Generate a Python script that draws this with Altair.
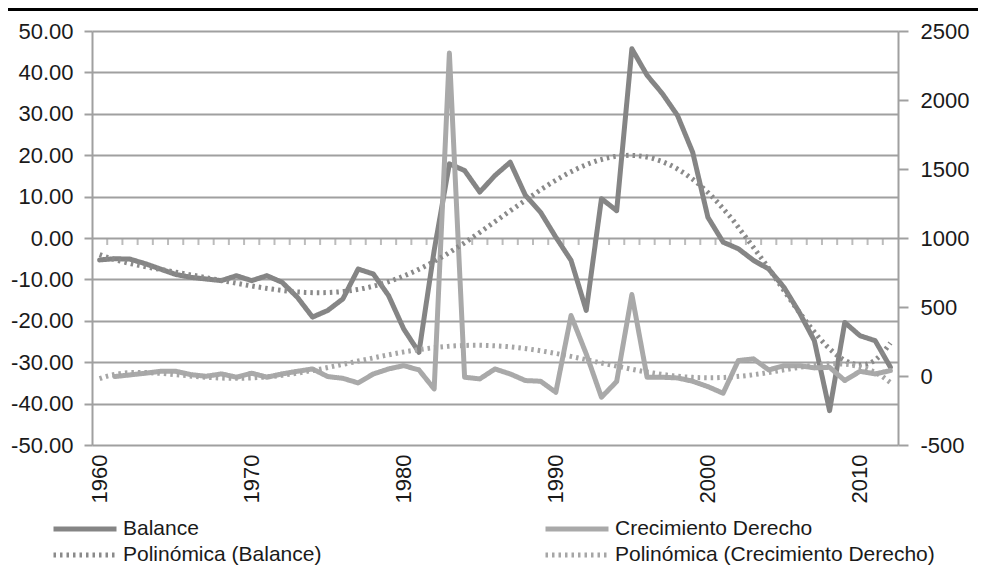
import altair as alt
import pandas as pd

years = list(range(1960, 2013))
balance = [-5.3, -5.0, -5.1, -6.2, -7.5, -8.8, -9.5, -9.9, -10.3, -9.1,
           -10.3, -9.1, -10.7, -14.3, -19.1, -17.5, -14.7, -7.5, -8.7, -13.9,
           -22.0, -27.6, -3.0, 17.9, 16.3, 11.1, 15.1, 18.3, 10.3, 6.2,
           0.2, -5.4, -17.5, 9.5, 6.6, 45.7, 39.3, 34.9, 29.6, 20.7,
           5.0, -1.0, -2.6, -5.4, -7.5, -11.9, -17.9, -24.8, -41.7, -20.4,
           -23.6, -24.8, -31.2]
crecimiento = [None, -4, 8, 20, 34, 34, 10, -2, 15, -9,
               20, -9, 15, 34, 51, -4, -17, -50, 15, 51,
               75, 44, -94, 2340, -9, -21, 51, 15, -33, -38,
               -118, 438, 160, -154, -40, 590, -9, -9, -14, -38,
               -77, -125, 112, 124, 44, 75, 75, 59, 63, -33,
               34, 15, 39]

series_names = ["Balance", "Crecimiento Derecho",
                "Polinómica (Balance)", "Polinómica (Crecimiento Derecho)"]
series_colors = ["#858585", "#a9a9a9", "#8a8a8a", "#a6a6a6"]
series_dash = [[1, 0], [1, 0], [2.5, 4], [2.5, 4]]
series_width = [5, 5, 3.2, 3.2]

left_ticks = [-50, -40, -30, -20, -10, 0, 10, 20, 30, 40, 50]
right_ticks = [-500, 0, 500, 1000, 1500, 2000, 2500]
year_labels = [1960, 1970, 1980, 1990, 2000, 2010]

rows = []
for yr, b, c in zip(years, balance, crecimiento):
    rows.append({"year": yr, "t": yr - years[0], "serie": "Balance", "value": b})
    rows.append({"year": yr, "t": yr - years[0], "serie": "Crecimiento Derecho", "value": c})
df = pd.DataFrame(rows)
bounds = pd.DataFrame({"year": [y + 0.5 for y in years[:-1]], "value": [0] * (len(years) - 1)})

FONT = "Liberation Sans"
GRID = "#a0a0a0"

legend = alt.Legend(
    title=None, orient="none", legendX=-20, legendY=485, columns=2, direction="horizontal",
    columnPadding=213, rowPadding=3, symbolType="M-3,0H3", symbolSize=441,
    labelOffset=25, labelFontSize=21, labelFont=FONT, labelColor="#1a1a1a",
    padding=0, labelLimit=400,
)
color = alt.Color("serie:N", scale=alt.Scale(domain=series_names, range=series_colors), legend=legend)
dash = alt.StrokeDash("serie:N", scale=alt.Scale(domain=series_names, range=series_dash), legend=legend)
width = alt.StrokeWidth("serie:N", scale=alt.Scale(domain=series_names, range=series_width), legend=legend)

x_scale = alt.Scale(domain=[years[0] - 0.5, years[-1] + 0.5], nice=False, zero=False)
x_enc = alt.X(
    "year:Q", scale=x_scale,
    axis=alt.Axis(values=year_labels, format="d", labelAngle=270, ticks=False, domain=False,
                  grid=False, labelFontSize=22, labelPadding=9, title=None),
)

left_scale = alt.Scale(domain=[-50, 50], nice=False)
right_scale = alt.Scale(domain=[-500, 2500], nice=False)
y_left_axis = alt.Y(
    "value:Q", scale=left_scale,
    axis=alt.Axis(values=left_ticks, grid=True, tickSize=8, labelPadding=11,
                  labelFontSize=22, title=None,
                  labelExpr="datum.value < 0 ? '-' + format(-datum.value, '.2f') : format(datum.value, '.2f')"),
)
y_left_plain = alt.Y("value:Q", scale=left_scale, axis=None)
y_right_axis = alt.Y(
    "value:Q", scale=right_scale,
    axis=alt.Axis(values=right_ticks, orient="right", grid=False, tickSize=10,
                  labelPadding=12, labelFontSize=22, title=None,
                  labelExpr="datum.value < 0 ? '-' + format(-datum.value, 'd') : format(datum.value, 'd')"),
)
y_right_plain = alt.Y("value:Q", scale=right_scale, axis=None)

base = alt.Chart(df)

top_rule = alt.Chart(alt.Data(values=[{"k": 1}])).mark_rule(color="black", strokeWidth=3).encode(
    x=alt.value(-87), x2=alt.value(900), y=alt.value(-21.5)
)

bal_line = base.transform_filter(alt.datum.serie == "Balance").mark_line(
    strokeJoin="round", strokeCap="round"
).encode(x=x_enc, y=y_left_axis, color=color, strokeDash=dash, strokeWidth=width)

bal_trend = base.transform_filter(alt.datum.serie == "Balance").transform_regression(
    "t", "value", method="poly", order=6, extent=[0, len(years) - 1]
).transform_calculate(
    year=f"datum.t + {years[0]}", serie="'Polinómica (Balance)'"
).mark_line().encode(x=x_enc, y=y_left_plain, color=color, strokeDash=dash, strokeWidth=width)

zero_ticks = alt.Chart(bounds).mark_tick(
    orient="vertical", size=7, thickness=2, yOffset=3.5, color=GRID
).encode(x=x_enc, y=y_left_plain)

crec_line = base.transform_filter(alt.datum.serie == "Crecimiento Derecho").mark_line(
    strokeJoin="round", strokeCap="round"
).encode(x=x_enc, y=y_right_axis, color=color, strokeDash=dash, strokeWidth=width)

crec_trend = base.transform_filter(alt.datum.serie == "Crecimiento Derecho").transform_regression(
    "t", "value", method="poly", order=6, extent=[0, len(years) - 1]
).transform_calculate(
    year=f"datum.t + {years[0]}", serie="'Polinómica (Crecimiento Derecho)'"
).mark_line().encode(x=x_enc, y=y_right_plain, color=color, strokeDash=dash, strokeWidth=width)

chart = alt.layer(
    top_rule, zero_ticks, bal_line, crec_line, bal_trend, crec_trend
).resolve_scale(y="independent").properties(
    width=806, height=414,
    autosize=alt.AutoSizeParams(type="none"),
    padding={"left": 84, "top": 23, "right": 80, "bottom": 125},
).configure_view(stroke=None).configure_axis(
    labelFont=FONT, labelColor="#1a1a1a", domainColor=GRID, domainWidth=2,
    tickColor=GRID, tickWidth=2, gridColor=GRID, gridWidth=2,
)

chart.save("out.html", embed_options={"renderer": "svg", "actions": False})
